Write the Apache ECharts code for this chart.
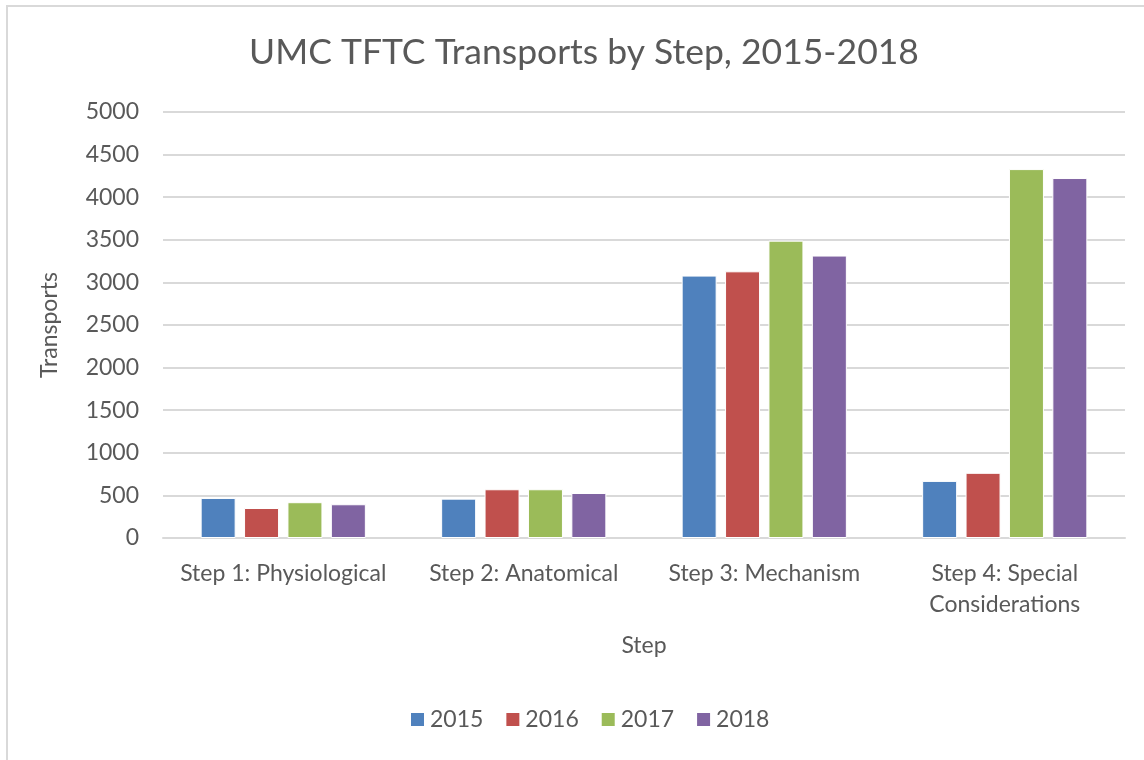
<!DOCTYPE html>
<html>
<head>
<meta charset="utf-8">
<title>UMC TFTC Transports by Step</title>
<script src="https://cdn.jsdelivr.net/npm/echarts@6/dist/echarts.min.js"></script>
<style>
  html, body { margin: 0; padding: 0; background: #fff; }
  #chart { width: 1144px; height: 760px; }
</style>
</head>
<body>
<div id="chart"></div>
<script>
// data
const steps = ['Step 1: Physiological', 'Step 2: Anatomical', 'Step 3: Mechanism', 'Step 4: Special\nConsiderations']
const years = ['2015', '2016', '2017', '2018']
const y2015 = [470, 462, 3080, 670]
const y2016 = [352, 572, 3130, 765]
const y2017 = [420, 572, 3490, 4330]
const y2018 = [396, 528, 3315, 4225]
const colors = ['#4f81bd', '#c0504d', '#9bbb59', '#8064a2']

const font = 'Lato, "Liberation Sans", sans-serif'
const grey = '#595959'

const chart = echarts.init(document.getElementById('chart'))

const seriesData = [y2015, y2016, y2017, y2018]

const option = {
  animation: false,
  color: colors,
  textStyle: { fontFamily: font, color: grey },
  title: {
    text: 'UMC TFTC Transports by Step, 2015-2018',
    left: 579,
    textAlign: 'center',
    top: 30,
    textStyle: { fontFamily: font, fontSize: 35.5, fontWeight: 'normal', color: grey }
  },
  graphic: [{
    type: 'rect',
    shape: { x: 7, y: 6, width: 1200, height: 800 },
    style: { fill: 'none', stroke: '#d9d9d9', lineWidth: 2 },
    silent: true
  }],
  legend: {
    data: years,
    bottom: 24,
    left: 404,
    itemWidth: 15,
    itemHeight: 15,
    itemGap: 21,
    icon: 'rect',
    textStyle: { fontFamily: font, fontSize: 23, color: grey }
  },
  grid: { left: 163, right: 19, top: 112, bottom: 222 },
  xAxis: {
    type: 'category',
    data: steps,
    name: 'Step',
    nameLocation: 'middle',
    nameGap: 96,
    nameTextStyle: { fontFamily: font, fontSize: 23, color: grey },
    axisLine: { lineStyle: { color: '#d9d9d9', width: 2 } },
    axisTick: { show: false },
    axisLabel: { fontFamily: font, fontSize: 23, color: grey, margin: 20, lineHeight: 31, interval: 0 }
  },
  yAxis: {
    type: 'value',
    min: 0,
    max: 5000,
    interval: 500,
    name: 'Transports',
    nameLocation: 'middle',
    nameGap: 102,
    nameTextStyle: { fontFamily: font, fontSize: 23, color: grey },
    axisLine: { show: false },
    axisTick: { show: false },
    axisLabel: { fontFamily: font, fontSize: 23, color: grey, margin: 24, formatter: v => String(v) },
    splitLine: { lineStyle: { color: '#d9d9d9', width: 2 } }
  },
  series: seriesData.map((d, i) => ({
    name: years[i],
    type: 'bar',
    data: d,
    barWidth: 35,
    barGap: '24%',
    itemStyle: { borderColor: '#ffffff', borderWidth: 1 }
  }))
}

chart.setOption(option)
</script>
</body>
</html>
